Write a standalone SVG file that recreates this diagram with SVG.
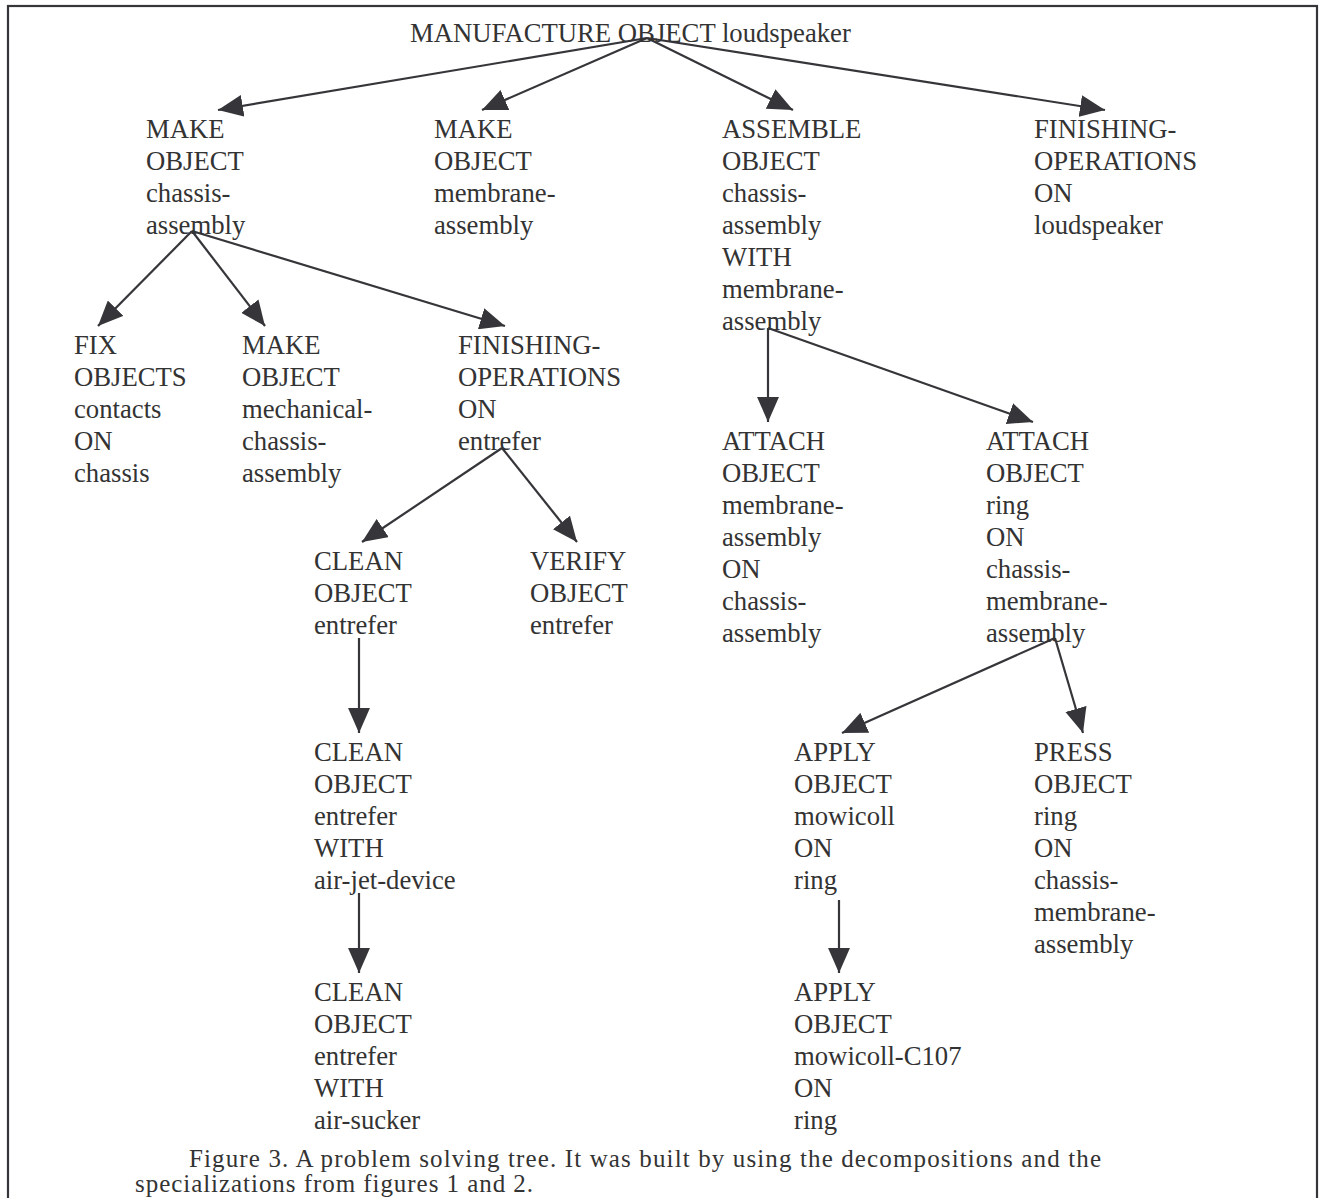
<svg xmlns="http://www.w3.org/2000/svg" width="1322" height="1198" viewBox="0 0 1322 1198" font-family="'Liberation Serif','Times New Roman',serif">
<style>
text{font-family:"Liberation Serif","Times New Roman",serif;font-size:26.7px;fill:#333}
text.cap{font-size:25px}
.c line{stroke:#35353a;stroke-width:2.2;marker-end:url(#ah)}
</style>
<defs>
<marker id="ah" markerUnits="userSpaceOnUse" markerWidth="25" markerHeight="22" refX="24" refY="10.5" orient="auto" viewBox="0 0 24 21">
<path d="M0,0 L24,10.5 L0,21 z" fill="#35353a"/>
</marker>
</defs>
<rect x="0" y="0" width="1322" height="1198" fill="#fff"/>
<rect x="8" y="6" width="1309" height="1210" fill="none" stroke="#35353a" stroke-width="2.2"/>
<g class="c" id="connectors">
<line x1="647" y1="38" x2="218" y2="110"/>
<line x1="647" y1="38" x2="482" y2="110"/>
<line x1="647" y1="38" x2="793" y2="110"/>
<line x1="647" y1="38" x2="1105" y2="110"/>
<line x1="192" y1="231" x2="98" y2="326"/>
<line x1="192" y1="231" x2="265" y2="326"/>
<line x1="192" y1="231" x2="505" y2="326"/>
<line x1="768" y1="328" x2="768" y2="422"/>
<line x1="768" y1="328" x2="1033" y2="422"/>
<line x1="502" y1="448" x2="362" y2="542"/>
<line x1="502" y1="448" x2="577" y2="542"/>
<line x1="359" y1="638" x2="359" y2="733"/>
<line x1="359" y1="893" x2="359" y2="973"/>
<line x1="1055" y1="638" x2="842" y2="733"/>
<line x1="1055" y1="638" x2="1083" y2="733"/>
<line x1="839" y1="900" x2="839" y2="973"/>
</g>
<g id="n-root"><text x="410" y="42">MANUFACTURE OBJECT loudspeaker</text></g>
<g id="n-make-chassis"><text x="146" y="138"><tspan x="146">MAKE</tspan><tspan x="146" dy="32">OBJECT</tspan><tspan x="146" dy="32">chassis-</tspan><tspan x="146" dy="32">assembly</tspan></text></g>
<g id="n-make-membrane"><text x="434" y="138"><tspan x="434">MAKE</tspan><tspan x="434" dy="32">OBJECT</tspan><tspan x="434" dy="32">membrane-</tspan><tspan x="434" dy="32">assembly</tspan></text></g>
<g id="n-assemble"><text x="722" y="138"><tspan x="722">ASSEMBLE</tspan><tspan x="722" dy="32">OBJECT</tspan><tspan x="722" dy="32">chassis-</tspan><tspan x="722" dy="32">assembly</tspan><tspan x="722" dy="32">WITH</tspan><tspan x="722" dy="32">membrane-</tspan><tspan x="722" dy="32">assembly</tspan></text></g>
<g id="n-finish-loudspeaker"><text x="1034" y="138"><tspan x="1034">FINISHING-</tspan><tspan x="1034" dy="32">OPERATIONS</tspan><tspan x="1034" dy="32">ON</tspan><tspan x="1034" dy="32">loudspeaker</tspan></text></g>
<g id="n-fix"><text x="74" y="354"><tspan x="74">FIX</tspan><tspan x="74" dy="32">OBJECTS</tspan><tspan x="74" dy="32">contacts</tspan><tspan x="74" dy="32">ON</tspan><tspan x="74" dy="32">chassis</tspan></text></g>
<g id="n-make-mech"><text x="242" y="354"><tspan x="242">MAKE</tspan><tspan x="242" dy="32">OBJECT</tspan><tspan x="242" dy="32">mechanical-</tspan><tspan x="242" dy="32">chassis-</tspan><tspan x="242" dy="32">assembly</tspan></text></g>
<g id="n-finish-entrefer"><text x="458" y="354"><tspan x="458">FINISHING-</tspan><tspan x="458" dy="32">OPERATIONS</tspan><tspan x="458" dy="32">ON</tspan><tspan x="458" dy="32">entrefer</tspan></text></g>
<g id="n-attach-membrane"><text x="722" y="450"><tspan x="722">ATTACH</tspan><tspan x="722" dy="32">OBJECT</tspan><tspan x="722" dy="32">membrane-</tspan><tspan x="722" dy="32">assembly</tspan><tspan x="722" dy="32">ON</tspan><tspan x="722" dy="32">chassis-</tspan><tspan x="722" dy="32">assembly</tspan></text></g>
<g id="n-attach-ring"><text x="986" y="450"><tspan x="986">ATTACH</tspan><tspan x="986" dy="32">OBJECT</tspan><tspan x="986" dy="32">ring</tspan><tspan x="986" dy="32">ON</tspan><tspan x="986" dy="32">chassis-</tspan><tspan x="986" dy="32">membrane-</tspan><tspan x="986" dy="32">assembly</tspan></text></g>
<g id="n-clean"><text x="314" y="570"><tspan x="314">CLEAN</tspan><tspan x="314" dy="32">OBJECT</tspan><tspan x="314" dy="32">entrefer</tspan></text></g>
<g id="n-verify"><text x="530" y="570"><tspan x="530">VERIFY</tspan><tspan x="530" dy="32">OBJECT</tspan><tspan x="530" dy="32">entrefer</tspan></text></g>
<g id="n-clean-jet"><text x="314" y="761"><tspan x="314">CLEAN</tspan><tspan x="314" dy="32">OBJECT</tspan><tspan x="314" dy="32">entrefer</tspan><tspan x="314" dy="32">WITH</tspan><tspan x="314" dy="32">air-jet-device</tspan></text></g>
<g id="n-apply"><text x="794" y="761"><tspan x="794">APPLY</tspan><tspan x="794" dy="32">OBJECT</tspan><tspan x="794" dy="32">mowicoll</tspan><tspan x="794" dy="32">ON</tspan><tspan x="794" dy="32">ring</tspan></text></g>
<g id="n-press"><text x="1034" y="761"><tspan x="1034">PRESS</tspan><tspan x="1034" dy="32">OBJECT</tspan><tspan x="1034" dy="32">ring</tspan><tspan x="1034" dy="32">ON</tspan><tspan x="1034" dy="32">chassis-</tspan><tspan x="1034" dy="32">membrane-</tspan><tspan x="1034" dy="32">assembly</tspan></text></g>
<g id="n-clean-sucker"><text x="314" y="1001"><tspan x="314">CLEAN</tspan><tspan x="314" dy="32">OBJECT</tspan><tspan x="314" dy="32">entrefer</tspan><tspan x="314" dy="32">WITH</tspan><tspan x="314" dy="32">air-sucker</tspan></text></g>
<g id="n-apply-c107"><text x="794" y="1001"><tspan x="794">APPLY</tspan><tspan x="794" dy="32">OBJECT</tspan><tspan x="794" dy="32">mowicoll-C107</tspan><tspan x="794" dy="32">ON</tspan><tspan x="794" dy="32">ring</tspan></text></g>
<g id="caption"><text class="cap" x="189" y="1167" textLength="912" lengthAdjust="spacing">Figure 3. A problem solving tree. It was built by using the decompositions and the</text><text class="cap" x="135" y="1192" textLength="398" lengthAdjust="spacing">specializations from figures 1 and 2.</text></g>
</svg>
